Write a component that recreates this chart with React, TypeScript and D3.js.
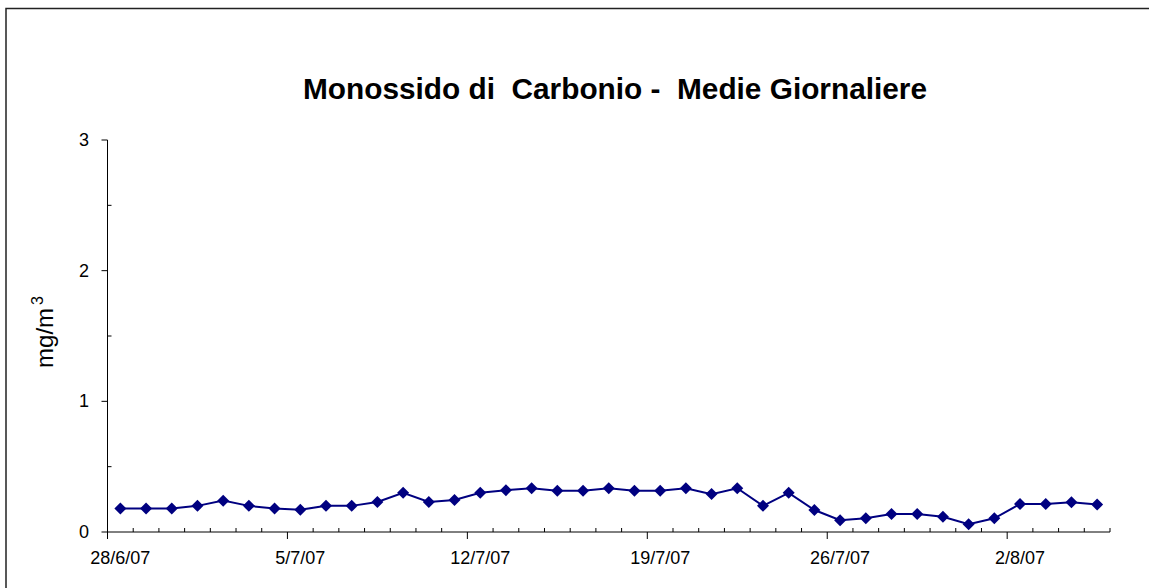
import React from "react";
import * as d3 from "d3";

const dates: string[] = [
  "28/6/07","29/6/07","30/6/07","1/7/07","2/7/07","3/7/07","4/7/07",
  "5/7/07","6/7/07","7/7/07","8/7/07","9/7/07","10/7/07","11/7/07",
  "12/7/07","13/7/07","14/7/07","15/7/07","16/7/07","17/7/07","18/7/07",
  "19/7/07","20/7/07","21/7/07","22/7/07","23/7/07","24/7/07","25/7/07",
  "26/7/07","27/7/07","28/7/07","29/7/07","30/7/07","31/7/07","1/8/07",
  "2/8/07","3/8/07","4/8/07","5/8/07",
];
const values: number[] = [
  0.18, 0.18, 0.18, 0.20, 0.24, 0.20, 0.18,
  0.17, 0.20, 0.20, 0.23, 0.30, 0.23, 0.245,
  0.30, 0.32, 0.335, 0.316, 0.316, 0.335, 0.316,
  0.316, 0.335, 0.29, 0.335, 0.20, 0.30, 0.168,
  0.09, 0.105, 0.138, 0.138, 0.117, 0.06, 0.105,
  0.214, 0.214, 0.227, 0.21,
];
const xTickLabels: string[] = ["28/6/07", "5/7/07", "12/7/07", "19/7/07", "26/7/07", "2/8/07"];
const yTicks: number[] = [0, 1, 2, 3];
const yMinorTicks: number[] = [0.5, 1.5, 2.5];
const title = "Monossido di  Carbonio -  Medie Giornaliere";

const parse = d3.utcParse("%d/%m/%y");

export default function App() {
  const W = 1149, H = 588;
  const left = 107.5, right = 1110, top = 140, bottom = 532;
  const start = parse(dates[0])!;
  const end = d3.utcDay.offset(parse(dates[dates.length - 1])!, 1);
  const x = d3.scaleUtc().domain([start, end]).range([left, right]);
  const y = d3.scaleLinear().domain([0, 3]).range([bottom, top]);
  const mid = (s: string) => x(d3.utcHour.offset(parse(s)!, 12));

  const pts = dates.map((d, i) => [mid(d), y(values[i])] as [number, number]);
  const line = d3.line()(pts) || "";
  const days = d3.utcDay.range(start, d3.utcDay.offset(end, 1));
  const majorSet = new Set(xTickLabels.map((s) => +parse(s)!));
  const font = "Arial, 'Liberation Sans', sans-serif";
  const r = 6;

  return (
    <svg width={W} height={H} style={{ position: "absolute", left: 0, top: 0, background: "#fff" }}>
      <rect x={6} y={8.5} width={W + 20} height={H + 20} fill="#fff" stroke="#222" strokeWidth={1.5} />
      <text x={615} y={99} textAnchor="middle" fontFamily={font} fontWeight="bold" fontSize={29}
        textLength={624} lengthAdjust="spacingAndGlyphs" style={{ whiteSpace: "pre" }} fill="#000">
        {title}
      </text>
      {/* Y axis */}
      <line x1={left} x2={left} y1={top} y2={bottom + 7} stroke="#000" strokeWidth={1} />
      {yTicks.map((t) => (
        <g key={"y" + t}>
          <line x1={left - 6} x2={left} y1={y(t)} y2={y(t)} stroke="#000" />
          <text x={89} y={y(t) + 6} textAnchor="end" fontFamily={font} fontSize={18}>{t}</text>
        </g>
      ))}
      {yMinorTicks.map((t) => (
        <line key={"ym" + t} x1={left} x2={left + 4} y1={y(t)} y2={y(t)} stroke="#000" />
      ))}
      <text transform={`translate(53,332) rotate(-90)`} textAnchor="middle" fontFamily={font} fontSize={24}>
        mg/m<tspan dx={3} dy={-10} fontSize={16}>3</tspan>
      </text>
      {/* X axis */}
      <line x1={left} x2={right} y1={bottom} y2={bottom} stroke="#000" />
      {days.map((d) => {
        const isMajor = majorSet.has(+d);
        const xx = x(d);
        return isMajor ? (
          <line key={+d} x1={xx} x2={xx} y1={bottom} y2={bottom + 7} stroke="#000" />
        ) : (
          <line key={+d} x1={xx} x2={xx} y1={bottom - 4} y2={bottom} stroke="#000" />
        );
      })}
      {xTickLabels.map((s) => (
        <text key={s} x={mid(s)} y={564} textAnchor="middle" fontFamily={font} fontSize={18}>{s}</text>
      ))}
      {/* Series */}
      <path d={line} fill="none" stroke="#000080" strokeWidth={2} />
      {pts.map(([px, py], i) => (
        <path key={i} d={`M${px},${py - r}L${px + r},${py}L${px},${py + r}L${px - r},${py}Z`} fill="#000080" />
      ))}
    </svg>
  );
}
